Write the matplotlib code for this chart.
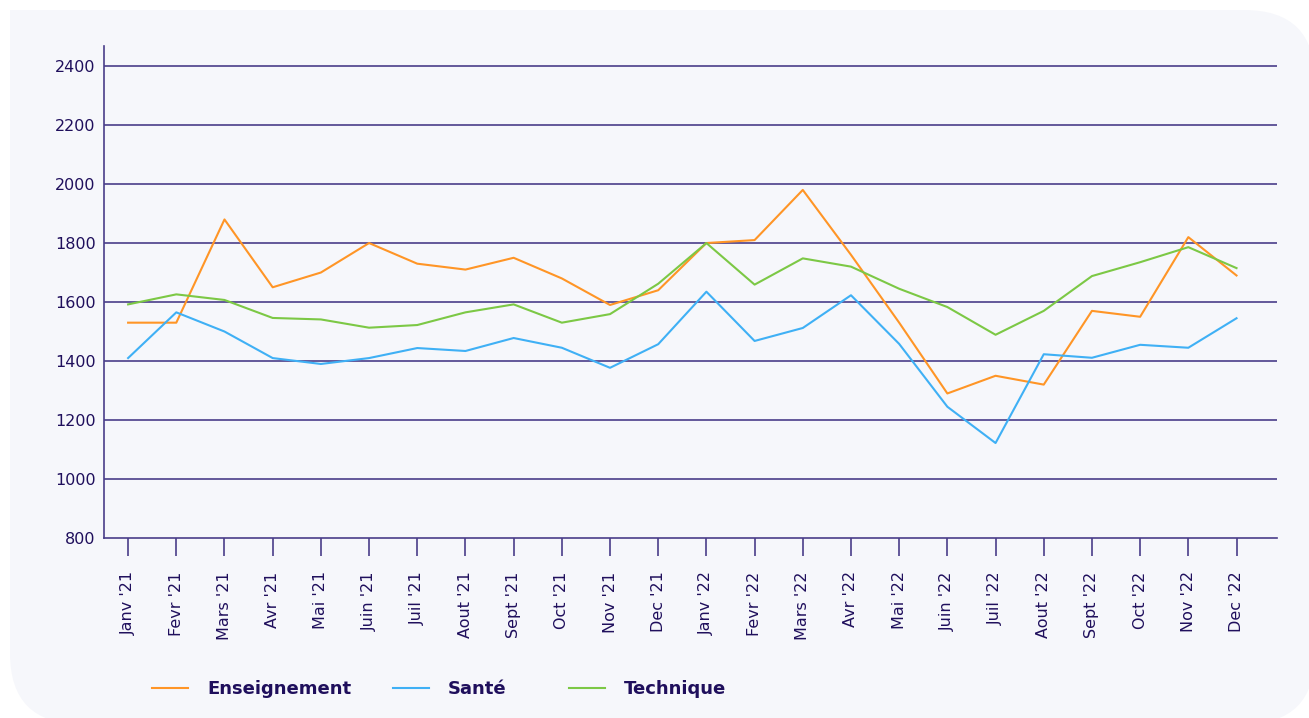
import matplotlib.pyplot as plt
from matplotlib.patches import FancyBboxPatch, Rectangle

months = ["Janv '21", "Fevr '21", "Mars '21", "Avr '21", "Mai '21", "Juin '21",
          "Juil '21", "Aout '21", "Sept '21", "Oct '21", "Nov '21", "Dec '21",
          "Janv '22", "Fevr '22", "Mars '22", "Avr '22", "Mai '22", "Juin '22",
          "Juil '22", "Aout '22", "Sept '22", "Oct '22", "Nov '22", "Dec '22"]

enseignement = [1530, 1530, 1880, 1650, 1700, 1800, 1730, 1710, 1750, 1680, 1590, 1640,
                1800, 1810, 1980, 1760, 1530, 1290, 1350, 1320, 1570, 1550, 1820, 1690]
sante = [1410, 1565, 1500, 1410, 1390, 1410, 1444, 1434, 1478, 1445, 1377, 1457,
         1635, 1468, 1512, 1623, 1458, 1245, 1122, 1423, 1411, 1455, 1445, 1545]
technique = [1592, 1626, 1607, 1546, 1541, 1513, 1522, 1565, 1592, 1530, 1559, 1662,
             1800, 1659, 1748, 1720, 1645, 1583, 1489, 1570, 1688, 1735, 1786, 1715]

yticks = [800, 1000, 1200, 1400, 1600, 1800, 2000, 2200, 2400]

text_col = '#1f0f5c'
axis_col = '#4a3d8a'
bg_col = '#f6f7fb'

W, H = 1309, 718
fig = plt.figure(figsize=(W / 100, H / 100), dpi=100)
fig.patch.set_facecolor('white')

# panel: rounded box, top-left corner kept square
bg = FancyBboxPatch((10 / W, -6 / H), (W + 6 - 10) / W, (H - 10 + 6) / H,
                    boxstyle="round,pad=0,rounding_size=0.054",
                    mutation_aspect=W / H,
                    transform=fig.transFigure, facecolor=bg_col,
                    edgecolor='none', zorder=-10)
fig.patches.append(bg)
fig.patches.append(Rectangle((10 / W, 0.5), 0.3, 0.5 - 10 / H,
                             transform=fig.transFigure, facecolor=bg_col,
                             edgecolor='none', zorder=-9))

ax = fig.add_axes([104 / W, 1 - 538 / H, (1277 - 104) / W, (538 - 46) / H])
ax.set_facecolor('none')

x = list(range(len(months)))
l1, = ax.plot(x, enseignement, color='#ff9526', lw=1.5, label='Enseignement', zorder=3)
l2, = ax.plot(x, sante, color='#3fb0f5', lw=1.5, label='Santé', zorder=3)
l3, = ax.plot(x, technique, color='#7cc845', lw=1.5, label='Technique', zorder=3)

ax.set_xlim(-0.5, 23.84)
ax.set_ylim(800, 2468)
ax.set_yticks(yticks)
ax.set_xticks(x)
ax.set_xticklabels(months, rotation=90)

for y in yticks[1:]:
    ax.axhline(y, color=axis_col, lw=1.2, zorder=1)

for s in ['top', 'right']:
    ax.spines[s].set_visible(False)
for s in ['left', 'bottom']:
    ax.spines[s].set_color(axis_col)
    ax.spines[s].set_linewidth(1.2)

ax.tick_params(axis='y', length=0, pad=6, labelsize=11.5, labelcolor=text_col)
ax.tick_params(axis='x', length=13, width=1.2, color=axis_col, pad=11,
               labelsize=11.5, labelcolor=text_col)

# one legend per series, so the uneven spacing of the original is kept
for line, xpix in zip([l1, l2, l3], [152, 393, 569]):
    fig.legend(handles=[line], loc='center left',
               bbox_to_anchor=(xpix / W, 1 - 689 / H),
               frameon=False, borderpad=0, borderaxespad=0, handlelength=2.0,
               handletextpad=1.05, prop={'weight': 'bold', 'size': 13},
               labelcolor=text_col)

fig.savefig('out.png', dpi=100)
